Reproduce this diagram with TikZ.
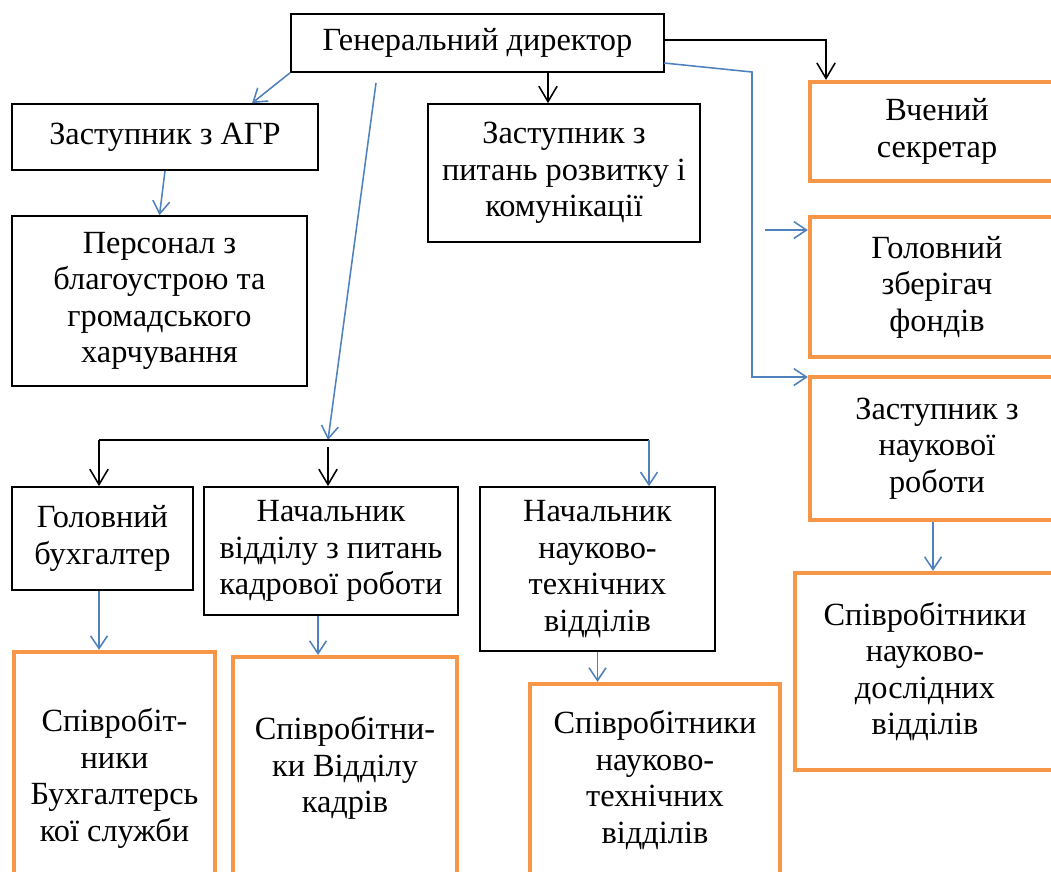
\documentclass[tikz,border=0pt]{standalone}
\usepackage{fontspec}
\setmainfont{Liberation Serif}
\usetikzlibrary{arrows.meta,positioning}
\definecolor{blu}{HTML}{4F81BD}
\definecolor{orng}{HTML}{F79646}
\tikzset{
  box/.style={draw, line width=1.2pt, align=center, inner sep=0pt,
    font=\fontsize{23}{26}\selectfont},
  obox/.style={box, draw=orng, line width=3pt},
  bl/.style={draw=blu, line width=1.1pt, -{Straight Barb[length=9pt,width=12pt]}},
  bk/.style={draw=black, line width=1.1pt, -{Straight Barb[length=11pt,width=13pt]}}
}

\begin{document}
\begin{tikzpicture}[x=0.025cm, y=-0.025cm]
\useasboundingbox (0,0) rectangle (1051,871);
\clip (0,0) rectangle (1051,871);
\node [box, minimum width=9.33cm, minimum height=1.45cm] (gen) at (477.5,43) {Генеральний директор};
\node [box, minimum width=7.65cm, minimum height=1.65cm] (agr) at (165,137) {Заступник з АГР};
\node [box, minimum width=7.375cm, minimum height=4.25cm] (pers) at (159.5,301)
	{Персонал з\\ благоустрою та\\ громадського\\ харчування};
\node [box, minimum width=6.8cm, minimum height=3.45cm] (rozv) at (564,173)
	{Заступник з\\ питань розвитку і\\ комунікації};
\node [obox, minimum width=6.35cm, minimum height=2.475cm] (sekr) at (937,131.5) {Вчений\\ секретар};
\node [obox, minimum width=6.35cm, minimum height=3.5cm] (zber) at (937,287) {Головний\\ зберігач\\ фондів};
\node [obox, minimum width=6.35cm, minimum height=3.575cm] (zast) at (937,448.5) {Заступник з\\ наукової\\ роботи};
\node [obox, minimum width=6.5cm, minimum height=4.925cm] (ndv) at (925,671.5)
	{Співробітники\\ науково-\\ дослідних\\ відділів};
\node [box, minimum width=4.525cm, minimum height=2.575cm] (buh) at (102.5,538.5) {Головний\\ бухгалтер};
\node [box, minimum width=6.35cm, minimum height=3.2cm] (kadr) at (331,551)
	{Начальник\\ відділу з питань\\ кадрової роботи};
\node [box, minimum width=5.875cm, minimum height=4.1cm] (ntv) at (597.5,569)
	{Начальник\\ науково-\\ технічних\\ відділів};
\node [obox, minimum width=5.025cm, minimum height=6.325cm] (sbuh) at (114.5,778.5)
	{Співробіт-\\ ники\\ Бухгалтерсь\\ кої служби};
\node [obox, minimum width=5.6cm, minimum height=5.55cm] (skadr) at (345,768)
	{Співробітни-\\ ки Відділу\\ кадрів};
\node [obox, minimum width=6.25cm, minimum height=4.8cm] (sntv) at (655,780)
	{Співробітники\\ науково-\\ технічних\\ відділів};
\coordinate (ag) at (252,0);
\coordinate (rz) at (548,0);
\coordinate (sk) at (826,40);
\coordinate (gb) at (664,63);
\coordinate (tr) at (752,72);
\coordinate (zb) at (752,377);
\coordinate (fz) at (765,230);
\coordinate (lt) at (376,83);
\coordinate (lb) at (328,440);
\coordinate (km) at (328,447);
\coordinate (bl) at (99,440);
\coordinate (br) at (649,440);
\coordinate (kd) at (318,0);
\draw [bl] (gen.south west) -- (agr.north -| ag);
\draw [bk] (gen.south -| rz) -- (rozv.north -| rz);
\draw [bk] (gen.east |- sk) -- (sk) -- (sk |- sekr.north);
\draw [bl] (gb) -- (tr) -- (zb) -- (zb -| zast.west);
\draw [bl] (fz) -- (fz -| zber.west);
\draw [bl] (agr.south) -- (pers.north);
\draw [bl] (lt) -- (lb);
\draw [line width=1.1pt] (bl) -- (br);
\draw [bk] (bl) -- (bl |- buh.north);
\draw [bk] (km) -- (km |- kadr.north);
\draw [bl] (br) -- (br |- ntv.north);
\draw [bl] (buh.south -| bl) -- (bl |- sbuh.north);
\draw [bl] (kadr.south -| kd) -- (kd |- skadr.north);
\draw [bl] (ntv.south) -- (sntv.north -| ntv.south);
\draw [bl] (zast.south -| 933,0) -- (ndv.north -| 933,0);
\end{tikzpicture}
\end{document}
